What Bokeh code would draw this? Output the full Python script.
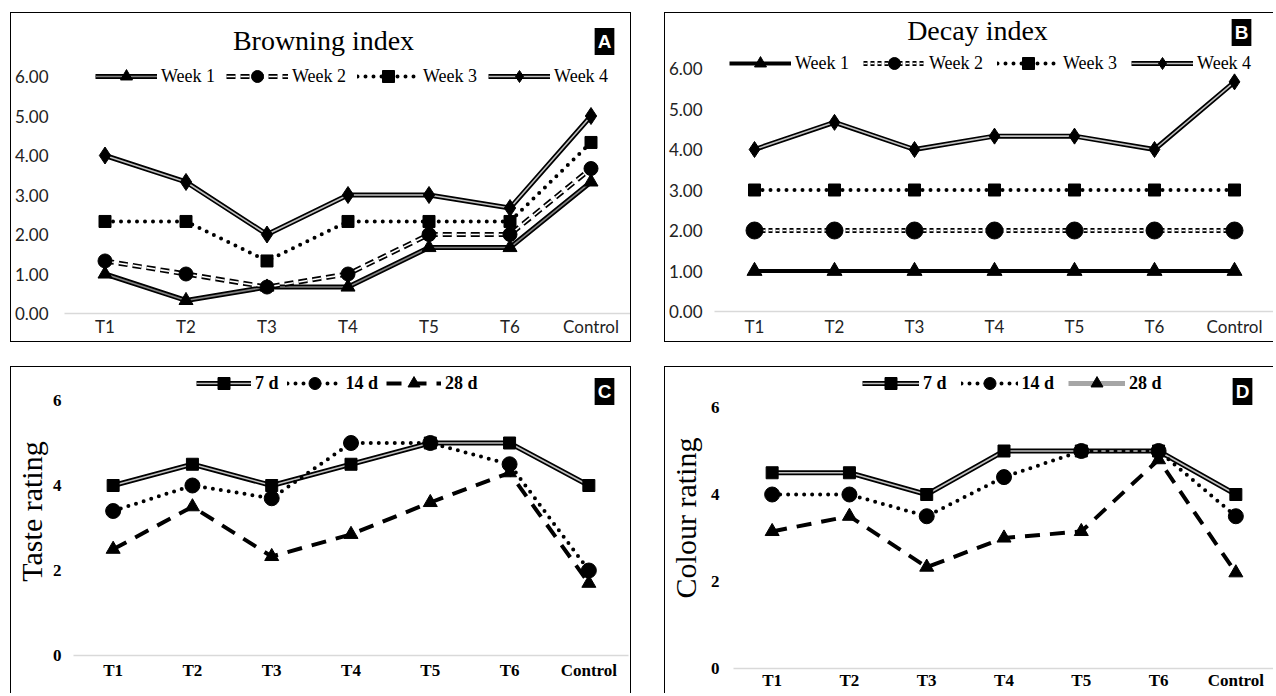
from bokeh.plotting import figure
from bokeh.models import (FactorRange, Range1d, Legend, LegendItem, Label,
                          FixedTicker, NumeralTickFormatter)
from bokeh.layouts import row, column
from bokeh.embed import file_html
from bokeh.resources import INLINE

treatments = ["T1", "T2", "T3", "T4", "T5", "T6", "Control"]

browning_week1 = [1.00, 0.33, 0.67, 0.67, 1.67, 1.67, 3.33]
browning_week2 = [1.33, 1.00, 0.67, 1.00, 2.00, 2.00, 3.67]
browning_week3 = [2.33, 2.33, 1.33, 2.33, 2.33, 2.33, 4.33]
browning_week4 = [4.00, 3.33, 2.00, 3.00, 3.00, 2.67, 5.00]

decay_week1 = [1.00, 1.00, 1.00, 1.00, 1.00, 1.00, 1.00]
decay_week2 = [2.00, 2.00, 2.00, 2.00, 2.00, 2.00, 2.00]
decay_week3 = [3.00, 3.00, 3.00, 3.00, 3.00, 3.00, 3.00]
decay_week4 = [4.00, 4.67, 4.00, 4.33, 4.33, 4.00, 5.67]

taste_7d = [4.0, 4.5, 4.0, 4.5, 5.0, 5.0, 4.0]
taste_14d = [3.4, 4.0, 3.7, 5.0, 5.0, 4.5, 2.0]
taste_28d = [2.5, 3.5, 2.33, 2.85, 3.6, 4.3, 1.7]

colour_7d = [4.5, 4.5, 4.0, 5.0, 5.0, 5.0, 4.0]
colour_14d = [4.0, 4.0, 3.5, 4.4, 5.0, 5.0, 3.5]
colour_28d = [3.15, 3.5, 2.33, 3.0, 3.15, 4.8, 2.2]

week_labels = ["Week 1", "Week 2", "Week 3", "Week 4"]
day_labels = ["7 d", "14 d", "28 d"]

SERIF = "Liberation Serif"
SANS = "Lato"
BOX = "Liberation Sans"


def base_fig(w, h, lb, rb, bb, top_px, yticks, fmt, border):
    # the frame fills the panel up to its top; the top tick sits top_px below it
    frame_h = h - bb
    y_end = yticks[-1] * frame_h / (frame_h - top_px)
    p = figure(x_range=FactorRange(factors=treatments), y_range=Range1d(0, y_end),
               width=w, height=h, output_backend="svg", toolbar_location=None,
               min_border_left=lb, min_border_right=rb, min_border_top=0,
               min_border_bottom=bb)
    p.frame_align = False
    p.xgrid.visible = False
    p.ygrid.visible = False
    p.outline_line_color = None
    p.background_fill_color = "white"
    p.border_fill_color = "white"
    p.xaxis.axis_line_color = "#d9d9d9"
    p.xaxis.axis_line_width = 1.5
    p.xaxis.major_tick_line_color = None
    p.xaxis.minor_tick_line_color = None
    p.yaxis.axis_line_color = None
    p.yaxis.major_tick_line_color = None
    p.yaxis.minor_tick_line_color = None
    p.yaxis.ticker = FixedTicker(ticks=yticks)
    p.yaxis.formatter = NumeralTickFormatter(format=fmt)
    p.styles = border
    return p


def series(p, y, style, marker, size, inner="#c0c0c0"):
    rs = []
    if style == "double":
        rs.append(p.line(treatments, y, line_color="black", line_width=5))
        rs.append(p.line(treatments, y, line_color=inner, line_width=1.6))
    elif style == "dash_outline":
        rs.append(p.line(treatments, y, line_color="black", line_width=5, line_dash="9 5"))
        rs.append(p.line(treatments, y, line_color="white", line_width=1.6, line_dash="9 5"))
    elif style == "double_dash":
        rs.append(p.line(treatments, y, line_color="black", line_width=5, line_dash="4 3"))
        rs.append(p.line(treatments, y, line_color="white", line_width=1.6, line_dash="4 3"))
    elif style == "dotted":
        rs.append(p.line(treatments, y, line_color="black", line_width=4,
                         line_dash="0 8", line_cap="round"))
    elif style == "solid":
        rs.append(p.line(treatments, y, line_color="black", line_width=4))
    elif style == "dashed":
        rs.append(p.line(treatments, y, line_color="black", line_width=4, line_dash="15 10"))
    rs.append(p.scatter(treatments, y, marker=marker, size=size,
                        fill_color="black", line_color="black"))
    return rs


def add_legend(p, items, loc, font_style, size="18px", gw=62, spacing=11):
    lg = Legend(items=items, location=loc, orientation="horizontal",
                glyph_width=gw, glyph_height=30, label_standoff=4, spacing=spacing,
                padding=0, margin=0, background_fill_alpha=0, border_line_color=None,
                label_text_font=SERIF, label_text_font_size=size,
                label_text_font_style=font_style, label_text_color="black")
    p.add_layout(lg, "center")


def title_label(p, text, x, y):
    p.add_layout(Label(x=x, y=y, x_units="screen", y_units="screen", text=text,
                       text_font=SERIF, text_font_size="28px", text_align="center",
                       text_baseline="middle", text_color="black"))


def box_label(p, text, x, y):
    p.add_layout(Label(x=x, y=y, x_units="screen", y_units="screen", text=text,
                       text_font=BOX, text_font_size="19px", text_font_style="bold",
                       text_align="center", text_baseline="middle", text_color="white",
                       background_fill_color="black", padding=3))


def style_sans(p, x_standoff):
    p.xaxis.major_label_text_font = SANS
    p.xaxis.major_label_text_font_size = "17px"
    p.xaxis.major_label_text_color = "#222222"
    p.xaxis.major_label_standoff = x_standoff
    p.yaxis.major_label_text_font = SANS
    p.yaxis.major_label_text_font_size = "17px"
    p.yaxis.major_label_text_color = "#222222"


def style_serif(p, label, tick_standoff, label_standoff, x_standoff):
    for ax in (p.xaxis, p.yaxis):
        ax.major_label_text_font = SERIF
        ax.major_label_text_font_size = "17px"
        ax.major_label_text_font_style = "bold"
        ax.major_label_text_color = "black"
    p.xaxis.major_label_standoff = x_standoff
    p.yaxis.major_label_standoff = tick_standoff
    p.yaxis.axis_label = label
    p.yaxis.axis_label_text_font = SERIF
    p.yaxis.axis_label_text_font_size = "30px"
    p.yaxis.axis_label_text_font_style = "normal"
    p.yaxis.axis_label_text_color = "black"
    p.yaxis.axis_label_standoff = label_standoff


full = {"border": "1px solid black"}
no_right = {"border-top": "1px solid black", "border-left": "1px solid black",
            "border-bottom": "1px solid black"}
no_bottom = {"border-top": "1px solid black", "border-left": "1px solid black",
             "border-right": "1px solid black"}
top_left = {"border-top": "1px solid black", "border-left": "1px solid black"}

# Panel A
pA = base_fig(621, 330, 50, 1, 30, 63, [0, 1, 2, 3, 4, 5, 6], "0.00", full)
style_sans(pA, -4)
pA.yaxis.major_label_standoff = 10
a1 = series(pA, browning_week1, "double", "triangle", 14, inner="#808080")
a2 = series(pA, browning_week2, "dash_outline", "circle", 14)
a3 = series(pA, browning_week3, "dotted", "square", 12)
a4 = series(pA, browning_week4, "double", "diamond", 17)
add_legend(pA, [LegendItem(label=week_labels[i], renderers=r)
                for i, r in enumerate([a1, a2, a3, a4])], (31, 222), "normal")
title_label(pA, "Browning index", 259, 273)
box_label(pA, "A", 540, 272)

# Panel B
pB = base_fig(609, 330, 44, 0, 32, 55, [0, 1, 2, 3, 4, 5, 6], "0.00", no_right)
style_sans(pB, -2)
pB.yaxis.major_label_standoff = 6
b1 = series(pB, decay_week1, "solid", "triangle", 15)
b2 = series(pB, decay_week2, "double_dash", "circle", 17)
b3 = series(pB, decay_week3, "dotted", "square", 12)
b4 = series(pB, decay_week4, "double", "diamond", 16)
add_legend(pB, [LegendItem(label=week_labels[i], renderers=r)
                for i, r in enumerate([b1, b2, b3, b4])], (15, 233), "normal", spacing=14)
title_label(pB, "Decay index", 263, 281)
box_label(pB, "B", 527, 279)

# Panel C
pC = base_fig(621, 327, 59, 4, 39, 33, [0, 2, 4, 6], "0", no_bottom)
style_serif(pC, "Taste rating", 6, 2, -1)
c1 = series(pC, taste_7d, "double", "square", 12)
c2 = series(pC, taste_14d, "dotted", "circle", 15)
c3 = series(pC, taste_28d, "dashed", "triangle", 14)
add_legend(pC, [LegendItem(label=day_labels[i], renderers=r)
                for i, r in enumerate([c1, c2, c3])], (123, 257), "bold", gw=55, spacing=8)
box_label(pC, "C", 531, 264)

# Panel D
pD = base_fig(609, 327, 65, 0, 26, 40, [0, 2, 4, 6], "0", top_left)
style_serif(pD, "Colour rating", 8, 6, -4)
d1 = series(pD, colour_7d, "double", "square", 12)
d2 = series(pD, colour_14d, "dotted", "circle", 15)
d3 = series(pD, colour_28d, "dashed", "triangle", 14)
d3_key = pD.line(treatments, [float("nan")] * len(treatments), line_color="#a6a6a6",
                 line_width=5)
add_legend(pD, [LegendItem(label=day_labels[0], renderers=d1),
                LegendItem(label=day_labels[1], renderers=d2),
                LegendItem(label=day_labels[2], renderers=[d3_key, d3[1]])],
           (129, 270), "bold", gw=57, spacing=14)
box_label(pD, "D", 509, 277)

root = column(row(pA, pB, spacing=33), row(pC, pD, spacing=33), spacing=24)
root.margin = (12, 0, 0, 10)

open("out.html", "w").write(file_html(root, INLINE))
